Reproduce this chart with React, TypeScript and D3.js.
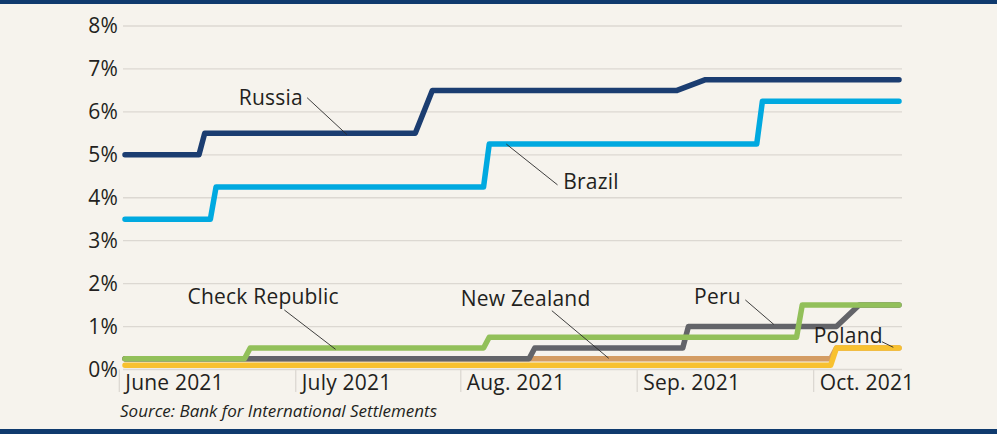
import React from "react";
import * as d3 from "d3";

// ---------- data ----------
type Pt = [string, number];

const RUSSIA: Pt[] = [
  ["2021-06-01", 5.0], ["2021-06-14", 5.0], ["2021-06-15", 5.5],
  ["2021-07-22", 5.5], ["2021-07-25", 6.5],
  ["2021-09-06", 6.5], ["2021-09-11", 6.75], ["2021-10-15", 6.75],
];
const BRAZIL: Pt[] = [
  ["2021-06-01", 3.5], ["2021-06-16", 3.5], ["2021-06-17", 4.25],
  ["2021-08-03", 4.25], ["2021-08-04", 5.25],
  ["2021-09-20", 5.25], ["2021-09-21", 6.25], ["2021-10-15", 6.25],
];
const CZECH: Pt[] = [
  ["2021-06-01", 0.25], ["2021-06-22", 0.25], ["2021-06-23", 0.5],
  ["2021-08-03", 0.5], ["2021-08-04", 0.75],
  ["2021-09-27", 0.75], ["2021-09-28", 1.5], ["2021-10-15", 1.5],
];
const PERU: Pt[] = [
  ["2021-06-01", 0.25], ["2021-08-11", 0.25], ["2021-08-12", 0.5],
  ["2021-09-07", 0.5], ["2021-09-08", 1.0],
  ["2021-10-04", 1.0], ["2021-10-08", 1.5], ["2021-10-15", 1.5],
];
const NEW_ZEALAND: Pt[] = [
  ["2021-06-01", 0.25], ["2021-10-03", 0.25], ["2021-10-04", 0.5], ["2021-10-15", 0.5],
];
const POLAND: Pt[] = [
  ["2021-06-01", 0.1], ["2021-10-03", 0.1], ["2021-10-04", 0.5], ["2021-10-15", 0.5],
];

const Y_TICKS = [0, 1, 2, 3, 4, 5, 6, 7, 8];
const X_TICK_DATES = ["2021-05-31", "2021-07-01", "2021-07-30", "2021-08-30", "2021-09-30"];
const X_TICK_LABELS = ["June 2021", "July 2021", "Aug. 2021", "Sep. 2021", "Oct. 2021"];
const DOMAIN_DATES = ["2021-06-01", "2021-10-15"];

// annotations: [label text anchor date, value], leader from, leader to
const LABELS: { text: string; at: Pt; from: Pt; to: Pt }[] = [
  { text: "Russia", at: ["2021-06-21", 6.15], from: ["2021-07-03", 6.33], to: ["2021-07-10", 5.47] },
  { text: "Brazil", at: ["2021-08-17", 4.2], from: ["2021-08-16", 4.3], to: ["2021-08-07", 5.25] },
  { text: "Check Republic", at: ["2021-06-12", 1.525], from: ["2021-06-29", 1.386], to: ["2021-07-08", 0.47] },
  { text: "New Zealand", at: ["2021-07-30", 1.486], from: ["2021-08-15", 1.37], to: ["2021-08-25", 0.26] },
  { text: "Peru", at: ["2021-09-09", 1.52], from: ["2021-09-18", 1.62], to: ["2021-09-23", 1.05] },
  { text: "Poland", at: ["2021-09-30", 0.61], from: ["2021-10-12", 0.647], to: ["2021-10-14", 0.517] },
];

const SOURCE = "Source: Bank for International Settlements";

// ---------- styles ----------
const W = 997;
const H = 434;
const BG = "#f6f3ed";
const NAVY_BAND = "#0f3a6e";
const GRID = "#dcd8d2";
const TEXT = "#231f20";
const FONT = "'Open Sans', 'Noto Sans', sans-serif";
const FS = 21;
const LS = 0.2;

const SERIES: { name: string; data: Pt[]; color: string }[] = [
  { name: "New Zealand", data: NEW_ZEALAND, color: "#d49c63" },
  { name: "Poland", data: POLAND, color: "#f8c12f" },
  { name: "Peru", data: PERU, color: "#636469" },
  { name: "Czech", data: CZECH, color: "#92c05a" },
  { name: "Brazil", data: BRAZIL, color: "#00a9e0" },
  { name: "Russia", data: RUSSIA, color: "#1b3d71" },
];

const parse = d3.utcParse("%Y-%m-%d");

export default function App() {
  const x = d3
    .scaleUtc()
    .domain(DOMAIN_DATES.map((d) => parse(d) as Date))
    .range([125, 899]);
  const y = d3.scaleLinear().domain([0, 8]).range([369.5, 26]);

  const line = d3
    .line<Pt>()
    .x((d) => x(parse(d[0]) as Date))
    .y((d) => y(d[1]))
    .curve(d3.curveLinear);

  const gridX0 = 123;
  const gridX1 = 902;

  return (
    <svg
      width={W}
      height={H}
      viewBox={`0 0 ${W} ${H}`}
      style={{ position: "absolute", left: 0, top: 0, display: "block" }}
    >
      <rect x={0} y={0} width={W} height={H} fill={BG} />
      <rect x={0} y={0} width={W} height={4} fill={NAVY_BAND} />
      <rect x={0} y={429} width={W} height={5} fill={NAVY_BAND} />

      {/* gridlines + y labels */}
      {Y_TICKS.map((t) => (
        <g key={t}>
          <line x1={gridX0} x2={gridX1} y1={y(t)} y2={y(t)} stroke={GRID} strokeWidth={1.3} />
          <text
            x={118}
            y={y(t)}
            dy="0.35em"
            textAnchor="end"
            fontFamily={FONT}
            fontSize={FS}
            letterSpacing={LS}
            fill={TEXT}
          >
            {t}%
          </text>
        </g>
      ))}

      {/* x ticks */}
      {X_TICK_DATES.map((d, i) => {
        const px = x(parse(d) as Date);
        return (
          <g key={d}>
            <line x1={px} x2={px} y1={y(0)} y2={392} stroke={GRID} strokeWidth={1.3} />
            <text x={px + 6} y={390} fontFamily={FONT} fontSize={FS} letterSpacing={LS} fill={TEXT}>
              {X_TICK_LABELS[i]}
            </text>
          </g>
        );
      })}

      {/* series */}
      {SERIES.map((s) => (
        <path
          key={s.name}
          d={line(s.data) || ""}
          fill="none"
          stroke={s.color}
          strokeWidth={5.5}
          strokeLinecap="round"
          strokeLinejoin="round"
        />
      ))}

      {/* annotations */}
      {LABELS.map((l) => (
        <g key={l.text}>
          <line
            x1={x(parse(l.from[0]) as Date)}
            y1={y(l.from[1])}
            x2={x(parse(l.to[0]) as Date)}
            y2={y(l.to[1])}
            stroke="#2a2a2a"
            strokeWidth={0.9}
          />
          <text
            x={x(parse(l.at[0]) as Date)}
            y={y(l.at[1])}
            fontFamily={FONT}
            fontSize={FS}
            letterSpacing={LS}
            fill={TEXT}
          >
            {l.text}
          </text>
        </g>
      ))}

      <text x={120} y={417} fontFamily={FONT} fontStyle="italic" fontSize={17} fill={TEXT}>
        {SOURCE}
      </text>
    </svg>
  );
}
